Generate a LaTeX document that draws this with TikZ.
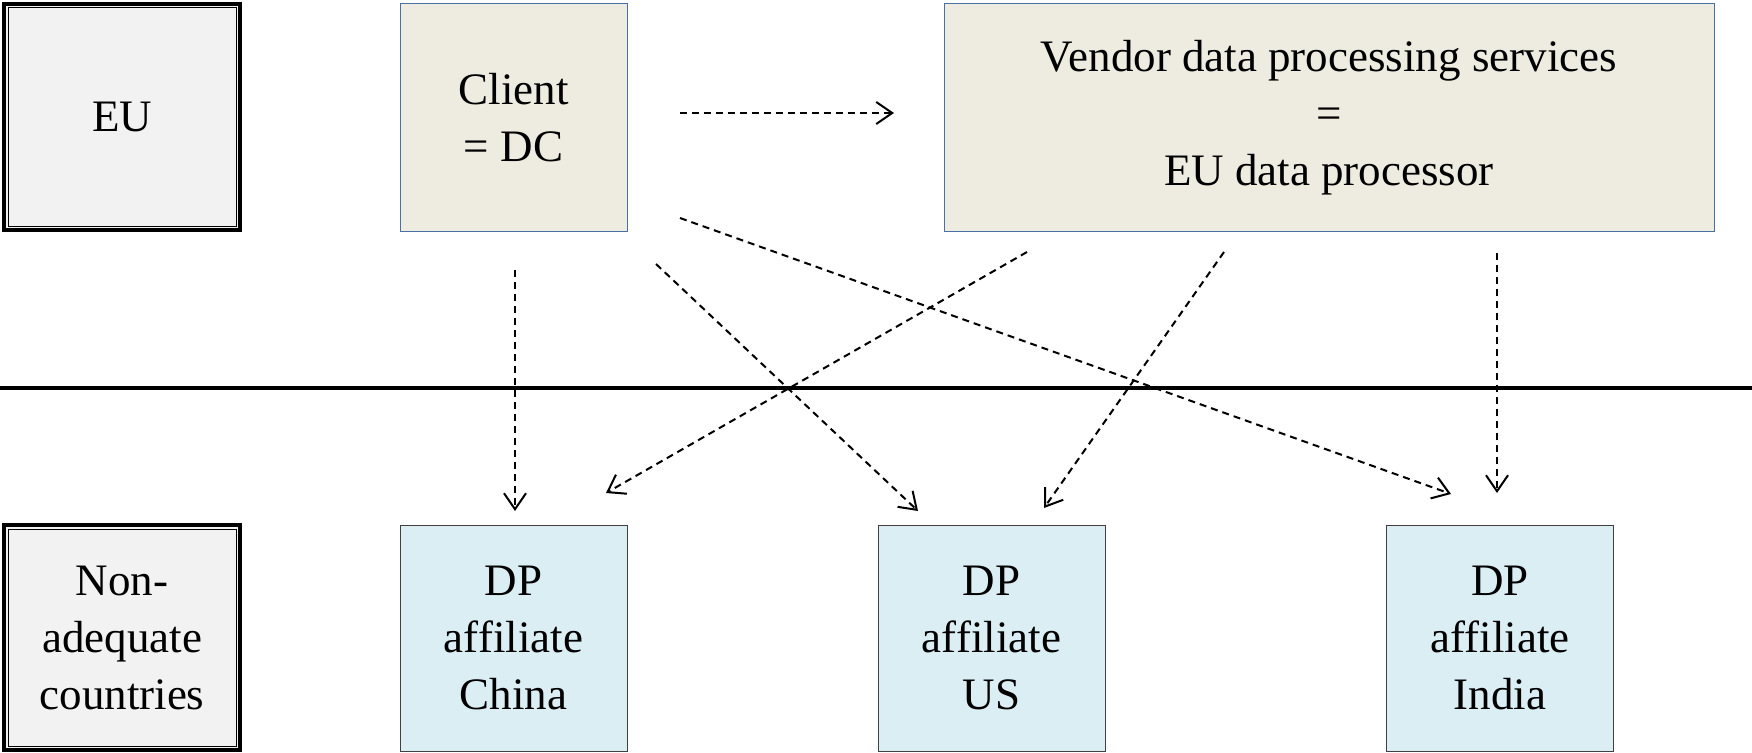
\documentclass[tikz,border=0pt]{standalone}
\usepackage{fontspec}
\setmainfont{Liberation Serif}
\usetikzlibrary{arrows.meta,calc}
\definecolor{euFill}{HTML}{F2F2F2}
\definecolor{tanFill}{HTML}{EEECE1}
\definecolor{tanLine}{HTML}{4A6FA5}
\definecolor{dpFill}{HTML}{DAEEF3}
\definecolor{dpLine}{HTML}{404040}
\begin{document}
\begin{tikzpicture}[x=1pt,y=-1pt,
  every node/.style={font=\fontsize{45}{57}\selectfont, align=center, inner sep=0pt, outer sep=0pt},
  regionbox/.style={draw=black, line width=4pt, fill=euFill},
  tanbox/.style={draw=tanLine, line width=1pt, fill=tanFill},
  dpbox/.style={draw=dpLine, line width=1pt, fill=dpFill, minimum width=227pt, minimum height=226pt},
  flow/.style={line width=2pt, dash pattern=on 7pt off 5pt, -{Straight Barb[length=16pt,width=22pt,line width=2pt]}}
]
\useasboundingbox (0,0) rectangle (1752,752);

% region boxes
\node[regionbox, minimum width=236pt, minimum height=226pt] (eu) at (122,117) {EU};
\draw[line width=1pt] ($(eu.north west)+(4,4)$) rectangle ($(eu.south east)+(-4,-4)$);
\node[regionbox, minimum width=236pt, minimum height=225pt] (na) at (122,637.5) {Non-\\adequate\\countries};
\draw[line width=1pt] ($(na.north west)+(4,4)$) rectangle ($(na.south east)+(-4,-4)$);

% EU side
\node[tanbox, minimum width=227pt, minimum height=227pt] (client) at (513.5,117.5) {Client\\= DC};
\node[tanbox, minimum width=770pt, minimum height=227pt] (vendor) at (1329,117.5) {Vendor data processing services\\=\\EU data processor};

% border line
\coordinate (lineL) at (0,388);
\coordinate (lineR) at (1752,388);
\draw[line width=3.5pt] (lineL) -- (lineR);

% affiliates
\node[dpbox] (china) at (513.5,638) {DP\\affiliate\\China};
\node[dpbox] (us) at (991.5,638) {DP\\affiliate\\US};
\node[dpbox] (india) at (1500,638) {DP\\affiliate\\India};

% connector end points
\coordinate (cR) at (680,113);
\coordinate (vL) at (894,113);
\coordinate (cD) at (515,270);
\coordinate (chT) at (515,511);
\coordinate (cUS) at (656,264);
\coordinate (usT1) at (918,511);
\coordinate (cIN) at (680,218);
\coordinate (inT1) at (1451,494);
\coordinate (vCH) at (1027,252);
\coordinate (chT2) at (606,493);
\coordinate (vUS) at (1224,252);
\coordinate (usT2) at (1044,508);
\coordinate (vIN) at (1497,253);
\coordinate (inT2) at (1497,493);

\draw[flow] (cR) -- (vL);
\draw[flow] (cD) -- (chT);
\draw[flow] (cUS) -- (usT1);
\draw[flow] (cIN) -- (inT1);
\draw[flow] (vCH) -- (chT2);
\draw[flow] (vUS) -- (usT2);
\draw[flow] (vIN) -- (inT2);
\end{tikzpicture}
\end{document}
